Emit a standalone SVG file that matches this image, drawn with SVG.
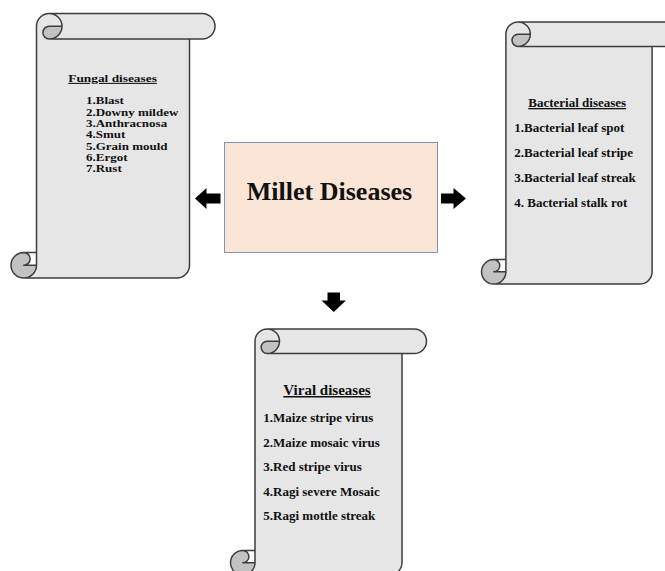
<svg xmlns="http://www.w3.org/2000/svg" width="665" height="571" viewBox="0 0 665 571">
<style>
.paper{fill:#e6e6e6;stroke:none}
.curl{fill:#c2c2c2;stroke:none}
.edge{fill:none;stroke:#3d3d3d;stroke-width:1.5;stroke-linejoin:round}
.t{font-family:"Liberation Serif","Times New Roman",serif;font-weight:bold;fill:#111}
.h{text-decoration:underline}
.arrow{fill:#000}
</style>
<rect width="665" height="571" fill="#fff"/>
<g id="node-fungal">
<path class="paper" d="M23.75,278 A12.75,12.75 0 0 0 36.5,265.25 L36.5,26.25 A12.75,12.75 0 0 1 49.25,13.5 L202.25,13.5 A12.75,12.75 0 0 1 202.25,39 L189.5,39 L189.5,265.25 A12.75,12.75 0 0 1 176.75,278 Z M62,26.25 A12.75,12.75 0 0 1 49.25,39 A6.375,6.375 0 0 1 49.25,26.25 Z"/>
<path class="curl" d="M62,26.25 A12.75,12.75 0 0 1 49.25,39 A6.375,6.375 0 0 1 49.25,26.25 Z M36.5,265.25 A12.75,12.75 0 1 1 23.75,252.5 A6.375,6.375 0 0 1 23.75,265.25 Z"/>
<path class="edge" d="M36.5,252.5 L36.5,26.25 A12.75,12.75 0 0 1 49.25,13.5 L202.25,13.5 A12.75,12.75 0 0 1 202.25,39 L189.5,39 L189.5,265.25 A12.75,12.75 0 0 1 176.75,278 L23.75,278 A12.75,12.75 0 0 1 23.75,252.5 Z M49.25,13.5 A12.75,12.75 0 0 1 49.25,39 A6.375,6.375 0 0 1 49.25,26.25 L62,26.25 M189.5,39 L49.25,39 M23.75,252.5 A6.375,6.375 0 0 1 23.75,265.25 L36.5,265.25 M23.75,278 A12.75,12.75 0 0 0 36.5,265.25 L36.5,252.5"/>
<text class="t h" transform="translate(68.3,82) scale(1.27,1)" x="0" y="0" font-size="10.5">Fungal diseases</text>
<g class="t" font-size="10" transform="translate(86,0) scale(1.3,1)">
<text x="0" y="104.5">1.Blast</text>
<text x="0" y="115.8">2.Downy mildew</text>
<text x="0" y="127.1">3.Anthracnosa</text>
<text x="0" y="138.4">4.Smut</text>
<text x="0" y="149.7">5.Grain mould</text>
<text x="0" y="161">6.Ergot</text>
<text x="0" y="172.3">7.Rust</text>
</g>
</g>
<g id="node-bacterial">
<path class="paper" d="M493.7,284 A12.2,12.2 0 0 0 505.9,271.8 L505.9,34.2 A12.2,12.2 0 0 1 518.1,22 L664.3,22 A12.2,12.2 0 0 1 664.3,46.4 L652.1,46.4 L652.1,271.8 A12.2,12.2 0 0 1 639.9,284 Z M530.3,34.2 A12.2,12.2 0 0 1 518.1,46.4 A6.1,6.1 0 0 1 518.1,34.2 Z"/>
<path class="curl" d="M530.3,34.2 A12.2,12.2 0 0 1 518.1,46.4 A6.1,6.1 0 0 1 518.1,34.2 Z M505.9,271.8 A12.2,12.2 0 1 1 493.7,259.6 A6.1,6.1 0 0 1 493.7,271.8 Z"/>
<path class="edge" d="M505.9,259.6 L505.9,34.2 A12.2,12.2 0 0 1 518.1,22 L664.3,22 A12.2,12.2 0 0 1 664.3,46.4 L652.1,46.4 L652.1,271.8 A12.2,12.2 0 0 1 639.9,284 L493.7,284 A12.2,12.2 0 0 1 493.7,259.6 Z M518.1,22 A12.2,12.2 0 0 1 518.1,46.4 A6.1,6.1 0 0 1 518.1,34.2 L530.3,34.2 M652.1,46.4 L518.1,46.4 M493.7,259.6 A6.1,6.1 0 0 1 493.7,271.8 L505.9,271.8 M493.7,284 A12.2,12.2 0 0 0 505.9,271.8 L505.9,259.6"/>
<text class="t h" x="528.3" y="107" font-size="13">Bacterial diseases</text>
<g class="t" font-size="13">
<text x="514.3" y="132">1.Bacterial leaf spot</text>
<text x="514.3" y="157">2.Bacterial leaf stripe</text>
<text x="514.3" y="182">3.Bacterial leaf streak</text>
<text x="514.3" y="206.5">4. Bacterial stalk rot</text>
</g>
</g>
<g id="node-viral">
<path class="paper" d="M242.75,575 A12.25,12.25 0 0 0 255,562.75 L255,341.25 A12.25,12.25 0 0 1 267.25,329 L414.25,329 A12.25,12.25 0 0 1 414.25,353.5 L402,353.5 L402,562.75 A12.25,12.25 0 0 1 389.75,575 Z M279.5,341.25 A12.25,12.25 0 0 1 267.25,353.5 A6.125,6.125 0 0 1 267.25,341.25 Z"/>
<path class="curl" d="M279.5,341.25 A12.25,12.25 0 0 1 267.25,353.5 A6.125,6.125 0 0 1 267.25,341.25 Z M255,562.75 A12.25,12.25 0 1 1 242.75,550.5 A6.125,6.125 0 0 1 242.75,562.75 Z"/>
<path class="edge" d="M255,550.5 L255,341.25 A12.25,12.25 0 0 1 267.25,329 L414.25,329 A12.25,12.25 0 0 1 414.25,353.5 L402,353.5 L402,562.75 A12.25,12.25 0 0 1 389.75,575 L242.75,575 A12.25,12.25 0 0 1 242.75,550.5 Z M267.25,329 A12.25,12.25 0 0 1 267.25,353.5 A6.125,6.125 0 0 1 267.25,341.25 L279.5,341.25 M402,353.5 L267.25,353.5 M242.75,550.5 A6.125,6.125 0 0 1 242.75,562.75 L255,562.75 M242.75,575 A12.25,12.25 0 0 0 255,562.75 L255,550.5"/>
<text class="t h" x="283.3" y="395" font-size="15">Viral diseases</text>
<g class="t" font-size="13">
<text x="263.3" y="422">1.Maize stripe virus</text>
<text x="263.3" y="446.5">2.Maize mosaic virus</text>
<text x="263.3" y="471">3.Red stripe virus</text>
<text x="263.3" y="495.5">4.Ragi severe Mosaic</text>
<text x="263.3" y="520">5.Ragi mottle streak</text>
</g>
</g>
<g id="node-center">
<rect x="224.5" y="142.5" width="213" height="110" fill="#fbe5d6" stroke="#7f93b5" stroke-width="1"/>
<text class="t" x="329.5" y="200" font-size="26" text-anchor="middle">Millet Diseases</text>
</g>
<g id="connectors">
<polygon class="arrow" points="195,198.5 206.5,188 206.5,193.5 220.5,193.5 220.5,203.5 206.5,203.5 206.5,209"/>
<polygon class="arrow" points="441,193.5 453.5,193.5 453.5,188 466,198.5 453.5,209 453.5,203.5 441,203.5"/>
<polygon class="arrow" points="327.5,292.5 340,292.5 340,300.5 346,300.5 333.75,312 321.5,300.5 327.5,300.5"/>
</g>
</svg>
